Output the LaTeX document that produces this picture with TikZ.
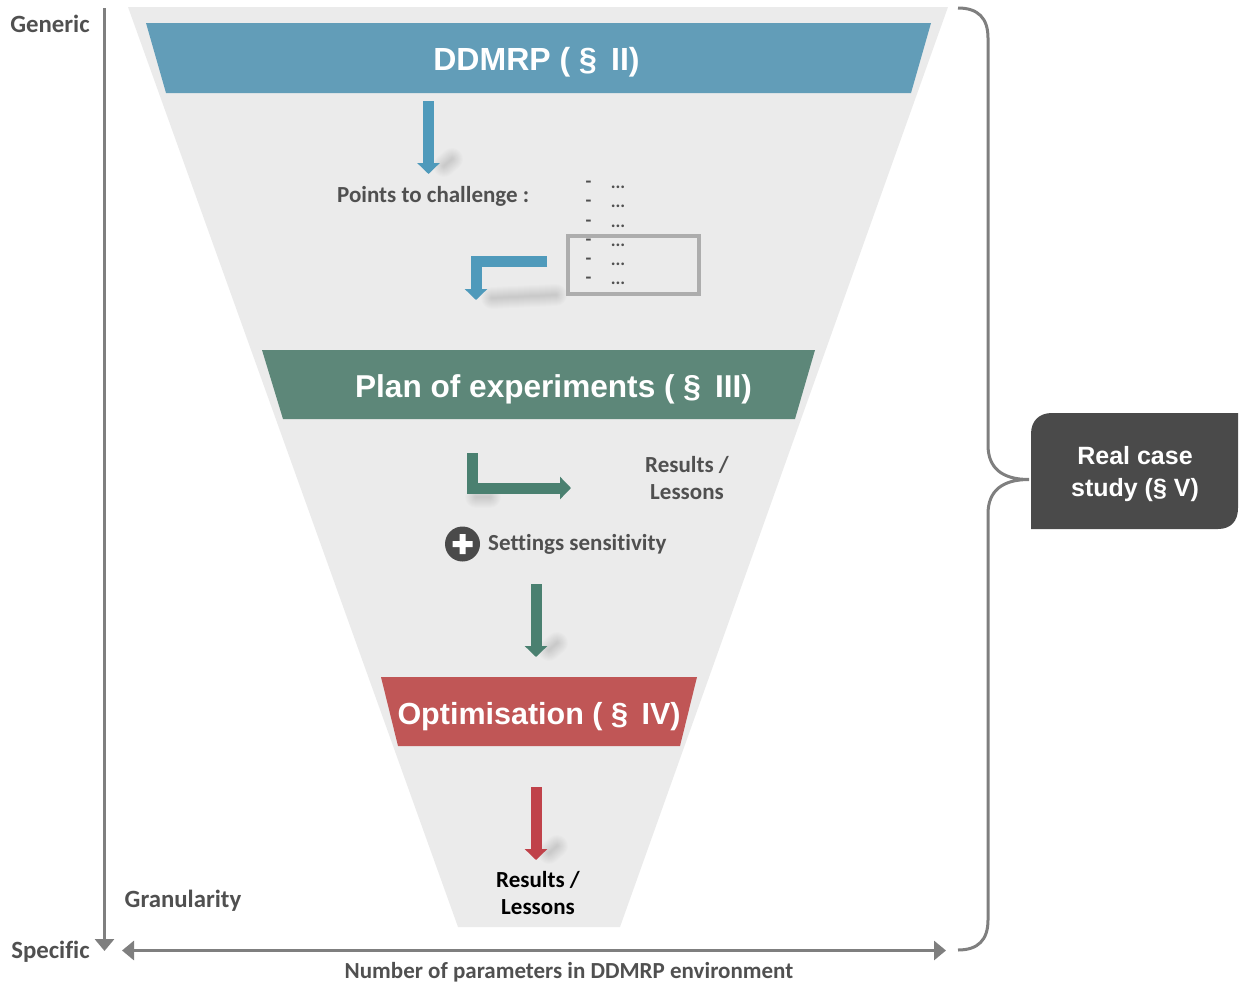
\documentclass[tikz,border=0pt]{standalone}
\usepackage{fontspec}
\setmainfont{Carlito}[Ligatures={NoCommon,NoContextual}]
\newfontfamily\headfont{Liberation Sans}
\usetikzlibrary{arrows.meta,calc}
\definecolor{funnel}{HTML}{EBEBEB}
\definecolor{bluebar}{HTML}{629DB8}
\definecolor{greenbar}{HTML}{5D8779}
\definecolor{redbar}{HTML}{C05656}
\definecolor{bluearr}{HTML}{4F9ABB}
\definecolor{greenarr}{HTML}{4A8070}
\definecolor{redarr}{HTML}{C0424A}
\definecolor{txt}{HTML}{505050}
\definecolor{axis}{HTML}{7F7F7F}
\definecolor{darkbox}{HTML}{4A4A4A}
\tikzset{
  x=1pt,y=-1pt,
  blockarrow/.style={line width=11pt,-{Triangle[width=22pt,length=11pt]}},
  axisline/.style={draw=axis,line width=3pt},
  label/.style={font=\bfseries\fontsize{23}{27}\selectfont,text=txt,align=center,inner sep=0pt},
  biglabel/.style={font=\bfseries\fontsize{24.8}{27}\selectfont,text=txt,align=center,inner sep=0pt},
  small/.style={font=\bfseries\fontsize{19}{19}\selectfont,text=txt,inner sep=0pt},
  banner/.style={text=white,inner sep=0pt},
  softshadow/.style={line cap=round,draw=black,opacity=0.012},
}
\newcommand{\softline}[2]{%
  \foreach \w in {2,4,6,8,10,12,14,16,18,20,22}{\draw[softshadow,line width=\w pt] #1 -- #2;}}
\begin{document}
\begin{tikzpicture}
\useasboundingbox (0,0) rectangle (1245,985);
% funnel
\fill[funnel] (128,7) -- (948,7) -- (620,927) -- (458,927) -- cycle;
% soft shadows
\softline{(444,166)}{(452,159)}
\softline{(492,298)}{(556,295)}
\softline{(476,497)}{(490,497)}
\softline{(549,650)}{(557,643)}
\softline{(549,853)}{(557,846)}
% banners
\fill[bluebar] (146,23) -- (931,23) -- (911,93) -- (166,93) -- cycle;
\fill[greenbar] (262,350) -- (815,350) -- (795,419) -- (283,419) -- cycle;
\fill[redbar] (381,677) -- (697,677) -- (680,746) -- (398,746) -- cycle;
\node[banner,font=\headfont\bfseries\fontsize{32}{36}\selectfont] (ddmrp) at (536.5,62) {DDMRP ( §\, II)};
\node[banner,font=\headfont\bfseries\fontsize{31.6}{36}\selectfont] (plan) at (553.5,389) {Plan of experiments ( §\, III)};
\node[banner,font=\headfont\bfseries\fontsize{30.5}{36}\selectfont] (opt) at (539,717) {Optimisation ( §\, IV)};
% texts
\node[label,anchor=west] (points) at (337,196) {Points to challenge :};
\foreach \i/\y in {1/184,2/203,3/223,4/242,5/261,6/280}{
  \node[small] (dash\i) at (588.5,\y) {-};
  \node[small,font=\bfseries\fontsize{18}{18}\selectfont] (dots\i) at (618,\y+3) {...};
}
\node[draw=black!32,line width=4.5pt,minimum width=131pt,minimum height=58pt,inner sep=0pt] (selbox) at (633.5,265) {};
\node[label] (res1) at (687,478) {Results /\\Lessons};
\node[circle,fill=darkbox,minimum size=35pt,inner sep=0pt] (plus) at (462.5,544) {};
\fill[white] (452.5,541) rectangle (472.5,547) (459.5,534) rectangle (465.5,554);
\node[label,anchor=west] (settings) at (488,544.5) {Settings sensitivity};
\node[label,text=black] (res2) at (538,893) {Results /\\Lessons};
\node[biglabel] (gran) at (183,900.5) {Granularity};
\node[biglabel] (generic) at (50,23.5) {Generic};
\node[biglabel] (specific) at (50.5,951.5) {Specific};
\node[label] (params) at (569,972.5) {Number of parameters in DDMRP environment};
% block arrows
\coordinate (a1s) at (428.5,101); \coordinate (a1e) at (428.5,174);
\draw[bluearr,blockarrow] (a1s) -- (a1e);
\coordinate (a2s) at (547,261.5); \coordinate (a2e) at (476,300);
\draw[bluearr,blockarrow] (a2s) -| (a2e);
\coordinate (a3s) at (472.5,453); \coordinate (a3e) at (571,488);
\draw[greenarr,blockarrow] (a3s) |- (a3e);
\coordinate (a4s) at (536,584); \coordinate (a4e) at (536,657);
\draw[greenarr,blockarrow] (a4s) -- (a4e);
\coordinate (a5s) at (536,787); \coordinate (a5e) at (536,860);
\draw[redarr,blockarrow] (a5s) -- (a5e);
% axes
\coordinate (v1) at (104.5,8); \coordinate (v2) at (104.5,951);
\draw[axisline,-{Triangle[width=19pt,length=12pt]}] (v1) -- (v2);
\coordinate (h1) at (122,950.5); \coordinate (h2) at (946,950.5);
\draw[axisline,{Triangle[width=19pt,length=12pt]}-{Triangle[width=19pt,length=12pt]}] (h1) -- (h2);
% real case box
\fill[darkbox] (1052,413) -- (1238,413) -- (1238,508) .. controls (1238,521) and (1231,529) .. (1218,529)
  -- (1031,529) -- (1031,434) .. controls (1031,421) and (1039,413) .. (1052,413) -- cycle;
\node[font=\headfont\bfseries\fontsize{25}{32}\selectfont,text=white,align=center,inner sep=0pt] (real) at (1135,474) {Real case\\study (§ V)};
% brace
\coordinate (b0) at (958,8); \coordinate (b1) at (958,950); \coordinate (btip) at (1029,479.5);
\draw[axis,line width=3pt] (b0) .. controls (978,8) and (988,18) .. (988,38)
  -- (988,445) .. controls (988,468) and (1002,479.5) .. (btip)
  .. controls (1002,479.5) and (988,491) .. (988,514)
  -- (988,920) .. controls (988,940) and (978,950) .. (b1);
\end{tikzpicture}
\end{document}
